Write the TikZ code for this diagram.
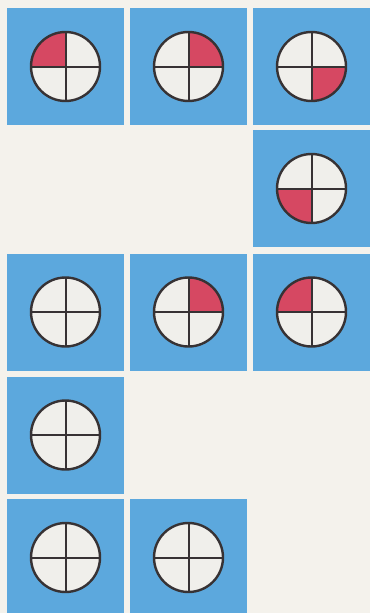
\documentclass[tikz,border=0pt]{standalone}
\definecolor{paper}{RGB}{244,242,236}
\definecolor{tileblue}{RGB}{92,168,221}
\definecolor{discfill}{RGB}{240,239,235}
\definecolor{quadred}{RGB}{214,72,98}
\definecolor{ink}{RGB}{55,50,52}
\tikzset{
  tilebox/.style={fill=tileblue},
  disc/.style={fill=discfill},
  quad/.style={fill=quadred},
  rim/.style={draw=ink, line width=2.4pt},
  cross/.style={draw=ink, line width=2pt}
}
\begin{document}
\begin{tikzpicture}[x=1pt,y=-1pt]
\fill[paper] (0,0) rectangle (370,613);
\useasboundingbox (0,0) rectangle (370,613);
\begin{scope}
\clip (0,0) rectangle (370,613);
\foreach \cx/\cy/\qx/\qy in {65.5/66.5/-1/-1, 188.5/66.5/1/-1, 311.5/66.5/1/1,
  311.5/188.5/-1/1, 65.5/312/0/0, 188.5/312/1/-1, 311.5/312/-1/-1,
  65.5/435/0/0, 65.5/557.5/0/0, 188.5/557.5/0/0}{
  \fill[tilebox] (\cx-58.5,\cy-58.5) rectangle (\cx+58.5,\cy+58.5);
  \fill[disc] (\cx,\cy) circle (34.5);
  \ifnum\qx=0\relax\else
    \begin{scope}
      \clip (\cx,\cy) circle (34.5);
      \fill[quad] (\cx,\cy) rectangle ++(\qx*36,\qy*36);
    \end{scope}
  \fi
  \draw[cross] (\cx-34.5,\cy) -- (\cx+34.5,\cy);
  \draw[cross] (\cx,\cy-34.5) -- (\cx,\cy+34.5);
  \draw[rim] (\cx,\cy) circle (34.5);
}
\end{scope}
\end{tikzpicture}
\end{document}
